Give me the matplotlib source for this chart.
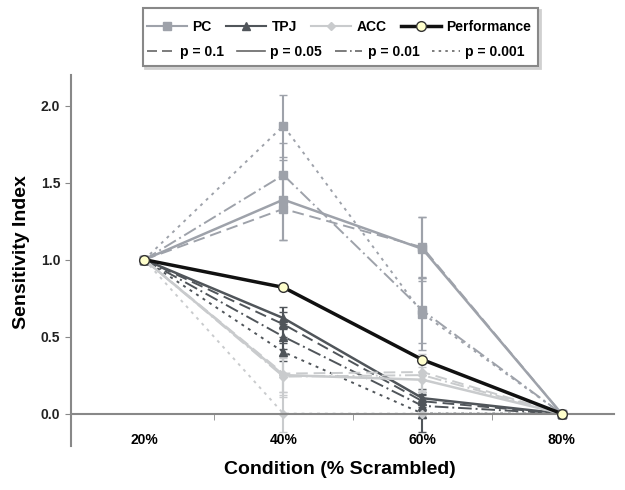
import matplotlib
matplotlib.use('Agg')
import matplotlib.pyplot as plt
from matplotlib.lines import Line2D
from matplotlib.patches import Rectangle
import numpy as np

plt.rcParams['font.family'] = ['Liberation Sans', 'DejaVu Sans']
plt.rcParams['font.weight'] = 'bold'

conditions = ['20%', '40%', '60%', '80%']
thresholds = ['p = 0.1', 'p = 0.05', 'p = 0.01', 'p = 0.001']
styles = {'p = 0.1': (0, (6, 3)), 'p = 0.05': '-', 'p = 0.01': (0, (7, 2, 1, 2)), 'p = 0.001': (0, (1.5, 2.5))}

# sensitivity index per region, one list per threshold
pc = {'p = 0.1': [1.0, 1.33, 1.08, 0.0],
      'p = 0.05': [1.0, 1.39, 1.07, 0.0],
      'p = 0.01': [1.0, 1.55, 0.67, 0.0],
      'p = 0.001': [1.0, 1.87, 0.65, 0.0]}
pc_err = {'p = 0.1': [0, 0.20, 0.20, 0],
          'p = 0.05': [0, 0.26, 0.21, 0],
          'p = 0.01': [0, 0.21, 0.21, 0],
          'p = 0.001': [0, 0.20, 0.24, 0]}

tpj = {'p = 0.1': [1.0, 0.58, 0.08, 0.0],
       'p = 0.05': [1.0, 0.62, 0.10, 0.0],
       'p = 0.01': [1.0, 0.50, 0.05, 0.0],
       'p = 0.001': [1.0, 0.40, 0.0, 0.0]}
tpj_err = {'p = 0.1': [0, 0.08, 0.06, 0],
           'p = 0.05': [0, 0.07, 0.06, 0],
           'p = 0.01': [0, 0.08, 0.08, 0],
           'p = 0.001': [0, 0.06, 0.12, 0]}

acc = {'p = 0.1': [1.0, 0.26, 0.27, 0.0],
       'p = 0.05': [1.0, 0.25, 0.22, 0.0],
       'p = 0.01': [1.0, 0.24, 0.25, 0.0],
       'p = 0.001': [1.0, 0.0, 0.0, 0.0]}
acc_err = {'p = 0.1': [0, 0.12, 0.12, 0],
           'p = 0.05': [0, 0.11, 0.08, 0],
           'p = 0.01': [0, 0.13, 0.11, 0],
           'p = 0.001': [0, 0.12, 0.0, 0]}

performance = [1.0, 0.82, 0.35, 0.0]

regions = [('PC', pc, pc_err, '#9ea2aa', 's', 6),
           ('TPJ', tpj, tpj_err, '#50555a', '^', 6),
           ('ACC', acc, acc_err, '#c9cbcd', 'D', 4)]

fig = plt.figure(figsize=(6.25, 4.9), dpi=100)
ax = fig.add_axes([0.113, 0.09, 0.87, 0.757])
x = np.arange(len(conditions))

for name, data, err, color, marker, ms in regions:
    for p in thresholds:
        lw = 1.8 if p == 'p = 0.05' else 1.4
        ax.errorbar(x, data[p], yerr=err[p], color=color, linestyle=styles[p],
                    linewidth=lw, marker=marker, markersize=ms, elinewidth=1.5,
                    capsize=3, capthick=1.0, zorder=2)

ax.plot(x, performance, color='#111111', linewidth=2.5, marker='o', markersize=7,
        markerfacecolor='#ffffcc', markeredgecolor='#333333', zorder=5)

ax.set_xlim(-0.53, 3.38)
ax.set_ylim(-0.21, 2.2)
ax.set_xticks(x)
ax.set_xticklabels(conditions)
ax.set_xticks([0.5, 1.5, 2.5], minor=True)
ax.tick_params(axis='x', which='major', length=0, pad=14, labelsize=10)
ax.tick_params(axis='x', which='minor', length=4, color='#888888', direction='out')
ax.set_yticks([0, 0.5, 1.0, 1.5, 2.0])
ax.set_yticklabels(['0.0', '0.5', '1.0', '1.5', '2.0'])
ax.tick_params(axis='y', length=4, color='#888888', labelsize=10, labelcolor='#222222')

for s in ['top', 'right']:
    ax.spines[s].set_visible(False)
ax.spines['bottom'].set_position(('data', 0))
ax.spines['bottom'].set_color('#888888')
ax.spines['bottom'].set_linewidth(1.5)
ax.spines['left'].set_color('#888888')
ax.spines['left'].set_linewidth(1.5)

ax.set_xlabel('Condition (% Scrambled)', fontsize=14, fontweight='bold')
ax.xaxis.set_label_coords(0.496, -0.04)
ax.set_ylabel('Sensitivity Index', fontsize=14, fontweight='bold')
ax.yaxis.set_label_coords(-0.075, 0.523)

# legend: two rows laid out on their own, one frame round both
row1_h = []
for name, data, err, color, marker, ms in regions:
    row1_h.append(Line2D([], [], color=color, marker=marker, markersize=ms, linewidth=1.5))
row1_h.append(Line2D([], [], color='#111111', linewidth=2.5, marker='o', markersize=7,
                     markerfacecolor='#ffffcc', markeredgecolor='#333333'))
row1_l = [r[0] for r in regions] + ['Performance']
row2_h = [Line2D([], [], color='#666666', linestyle=styles[p], linewidth=1.2) for p in thresholds]

leg1 = fig.legend(row1_h, row1_l, ncol=4, loc='center', bbox_to_anchor=(339 / 625, 1 - 27 / 490),
                  fontsize=10, frameon=False, handlelength=2.9, handletextpad=0.4,
                  columnspacing=1.0, borderpad=0)
leg2 = fig.legend(row2_h, thresholds, ncol=4, loc='center', bbox_to_anchor=(336 / 625, 1 - 52 / 490),
                  fontsize=10, frameon=False, handlelength=2.0, handletextpad=0.4,
                  columnspacing=0.9, borderpad=0)
for leg in (leg1, leg2):
    for t in leg.get_texts():
        t.set_fontweight('bold')

fig.patches.append(Rectangle((145 / 625, 1 - 68 / 490), 395 / 625, 58 / 490,
                             transform=fig.transFigure, facecolor='none',
                             edgecolor='#d0d0d0', linewidth=2.0, zorder=0))
fig.patches.append(Rectangle((143 / 625, 1 - 66 / 490), 395 / 625, 58 / 490,
                             transform=fig.transFigure, facecolor='white',
                             edgecolor='#888888', linewidth=1.5, zorder=1))

fig.savefig('out.png', dpi=100)
